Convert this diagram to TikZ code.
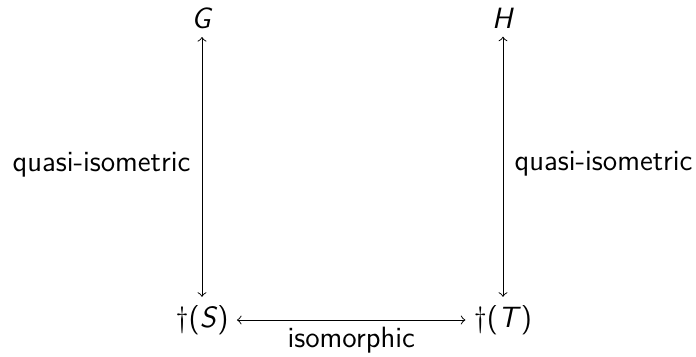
\documentclass[tikz,border=0pt]{standalone}
\usepackage{fontspec}
\begin{document}
\begin{tikzpicture}[x=0.375pt,y=-0.375pt,font=\sffamily\fontsize{11}{13}\selectfont,
  obj/.style={inner sep=3pt},
  lbl/.style={inner sep=4.2pt},
  link/.style={<->,line width=0.35pt}]
\path[use as bounding box] (0,0) rectangle (696,356);
\node[obj] (G) at (202,18) {\textit{G}};
\node[obj] (H) at (503,18) {\textit{H}};
\node[obj] (S) at (202,320) {†(\textit{S})};
\node[obj] (T) at (503,320) {†(\textit{T})};
\draw[link] (G) -- node[lbl,left,pos=0.49] {quasi-isometric} (S);
\draw[link] (H) -- node[lbl,right,pos=0.49] {quasi-isometric} (T);
\draw[link] (S) -- node[lbl,below,inner sep=2.5pt] {isomorphic} (T);
\end{tikzpicture}
\end{document}
